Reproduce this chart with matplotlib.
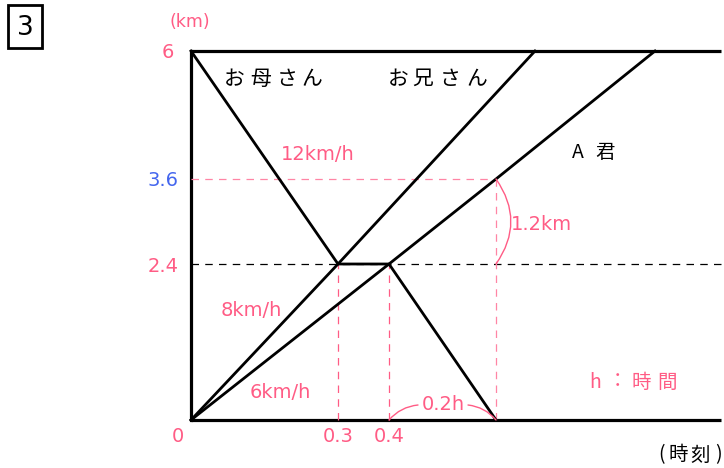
import matplotlib
matplotlib.use("Agg")
import matplotlib.pyplot as plt
from matplotlib.patches import Rectangle
import numpy as np

plt.rcParams['font.family'] = ['DejaVu Sans', 'Noto Sans CJK JP']

# 時刻 (h) と 距離 (km) -- 図は縮尺どおりではない
mother_t = [0, 0.3, 0.4, 0.6]
mother_d = [6, 2.4, 2.4, 0]
brother_t = [0, 0.3, 0.75]
brother_d = [0, 2.4, 6]
a_t = [0, 0.4, 0.6, 1.0]
a_d = [0, 2.4, 3.6, 6]

x_ticks = [0, 0.3, 0.4]
x_tick_labels = ['0', '0.3', '0.4']
y_ticks = [6, 3.6, 2.4]
y_tick_labels = ['6', '3.6', '2.4']

PINK = '#ff5c85'
LPINK = '#ff85a5'
BLUE = '#4466ee'
JP = ['Noto Sans CJK JP', 'DejaVu Sans']

W, H = 724, 468

# 図の目盛り (データ値 -> 画像のピクセル)
xk_data = [-0.6, 0, 0.3, 0.4, 0.6, 0.75, 1.0, 1.3]
xk_pix = [-100, 191, 338, 389, 496, 535, 655, 800]
yk_data = [-1, 0, 2.4, 3.6, 6, 7]
yk_pix = [H - 485, H - 420, H - 264, H - 179, H - 51, H + 9]

def fx(v):
    return np.interp(v, xk_data, xk_pix)
def ix(p):
    return np.interp(p, xk_pix, xk_data)
def fy(v):
    return np.interp(v, yk_data, yk_pix)
def iy(p):
    return np.interp(p, yk_pix, yk_data)

fig = plt.figure(figsize=(W / 100, H / 100), dpi=100)
ax = fig.add_axes([0, 0, 1, 1])
ax.set_xscale('function', functions=(fx, ix))
ax.set_yscale('function', functions=(fy, iy))
ax.set_xlim(ix(0), ix(W))
ax.set_ylim(iy(0), iy(H))
ax.axis('off')

xr = ix(721)

# 枠
ax.plot([0, xr], [6, 6], color='black', lw=2.3, solid_capstyle='butt')
ax.plot([0, xr], [0, 0], color='black', lw=2.3, solid_capstyle='butt')
ax.plot([0, 0], [0, 6], color='black', lw=2.3)

# 補助線
ax.plot([0, xr], [2.4, 2.4], color='black', lw=0.9, dashes=(6, 5))
ax.plot([0, 0.6], [3.6, 3.6], color=LPINK, lw=0.9, dashes=(6, 5))
ax.plot([0.6, 0.6], [0, 3.6], color=LPINK, lw=0.9, dashes=(6, 5))
for t in [0.3, 0.4]:
    ax.plot([t, t], [0, 2.4], color=PINK, lw=0.9, dashes=(6, 5))

# ダイヤグラム
ax.plot(mother_t, mother_d, color='black', lw=2.0)
ax.plot(brother_t, brother_d, color='black', lw=2.0)
ax.plot(a_t, a_d, color='black', lw=2.0)

# 弧
ax.annotate('', xy=(0.6, 2.4), xytext=(0.6, 3.6),
            arrowprops=dict(arrowstyle='-', color=PINK, lw=1.0,
                            connectionstyle='arc3,rad=-0.35', shrinkA=0, shrinkB=0))
ax.annotate('', xy=(ix(418), iy(H - 405)), xytext=(0.4, 0),
            arrowprops=dict(arrowstyle='-', color=PINK, lw=1.0,
                            connectionstyle='arc3,rad=-0.2', shrinkA=0, shrinkB=0))
ax.annotate('', xy=(0.6, 0), xytext=(ix(468), iy(H - 405)),
            arrowprops=dict(arrowstyle='-', color=PINK, lw=1.0,
                            connectionstyle='arc3,rad=-0.2', shrinkA=0, shrinkB=0))

# 目盛りラベル
for t, s in zip(x_ticks, x_tick_labels):
    xx = t if t > 0 else ix(178)
    ax.text(xx, iy(H - 437), s, color=PINK, fontsize=14, ha='center', va='center')
ycols = [PINK, BLUE, PINK]
yxs = [168, 163, 163]
yys = [53, 181, 266]
for s, c, px, py in zip(y_tick_labels, ycols, yxs, yys):
    ax.text(ix(px), iy(H - py), s, color=c, fontsize=14, ha='center', va='center')


def label(px, py, s, color='black', size=14, family=None):
    fig.text(px / W, 1 - py / H, s, color=color, fontsize=size, ha='center',
             va='center', family=family)


def spaced(xs, py, chars, color='black', size=14):
    for px, ch in zip(xs, chars):
        label(px, py, ch, color, size, JP)

label(190, 22, '(km)', PINK, 12.5)
spaced([662, 678, 700, 718], 455, '(時刻)', size=14)
spaced([595, 618, 641, 667], 382, 'h：時間', PINK, 14)
spaced([578, 605], 153, 'A君', size=14)
spaced([234, 261, 287, 312], 79, 'お母さん', size=15)
spaced([398, 423, 450, 477], 79, 'お兄さん', size=15)
label(318, 155, '12km/h', PINK)
label(251, 311, '8km/h', PINK)
label(280, 393, '6km/h', PINK)
label(541, 224, '1.2km', PINK)
label(443, 405, '0.2h', PINK)

# 問題番号
fig.patches.append(Rectangle((8 / W, 1 - 48 / H), 34 / W, 43 / H,
                             transform=fig.transFigure, fill=False,
                             ec='black', lw=2))
label(25, 28, '3', size=19)

fig.savefig('out.png', dpi=100)
